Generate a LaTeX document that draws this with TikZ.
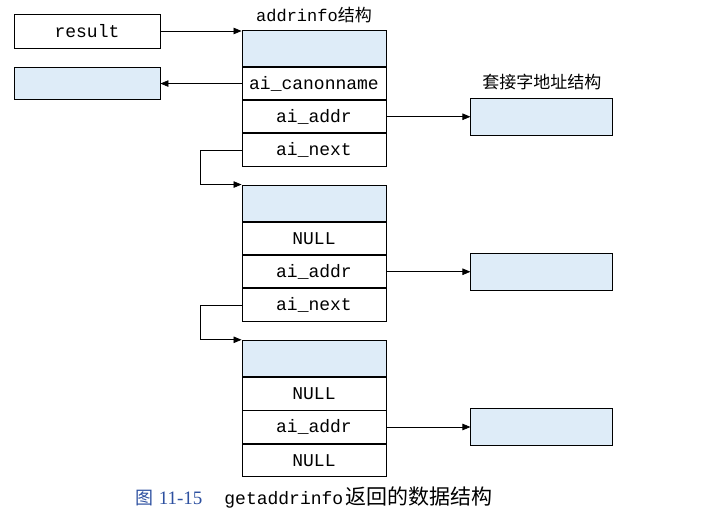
\documentclass[tikz,border=0pt]{standalone}
\usepackage{fontspec}
\setmainfont{Liberation Serif}
\setmonofont{Liberation Mono}
\newfontfamily\cjk{Noto Sans CJK SC}
\usetikzlibrary{arrows.meta,positioning}
\definecolor{lightblue}{RGB}{222,236,248}
\definecolor{capblue}{RGB}{45,80,160}
\tikzset{
  % one field of an addrinfo record
  field/.style={draw, rectangle, line width=0.9pt,
  minimum height=32.3pt,
  minimum width=144pt, inner sep=0pt,
  font=\fontsize{18}{20}\selectfont\ttfamily},
  headbox/.style={field, minimum height=36.5pt, fill=lightblue},
  sockbox/.style={draw, rectangle, line width=0.9pt,
  minimum height=37pt,
  minimum width=142pt, fill=lightblue},
  ptr/.style={-{Triangle[length=8pt,width=6.5pt]}, line width=0.75pt}}

\begin{document}
\begin{tikzpicture}[x=1pt,y=-1pt]
\useasboundingbox (0,0) rectangle (724,530);

\draw (87,31) node (result) [field, minimum width=146pt, minimum height=34pt] {result};
\draw (87,83) node (canon) [sockbox, minimum width=146pt, minimum height=32pt] {};

% first addrinfo
\draw (314,48.25) node (h1) [headbox] {};
\draw (h1.south) node (c1) [below, field] {ai\_canonname};
\draw (c1.south) node (a1) [below, field] {ai\_addr};
\draw (a1.south) node (n1) [below, field] {ai\_next};
\node (ainame) [above=3pt of h1, font=\fontsize{17}{19}\selectfont\ttfamily] {addrinfo{\cjk 结构}};

% second addrinfo
\draw (314,203.25) node (h2) [headbox] {};
\draw (h2.south) node (u2) [below, field] {NULL};
\draw (u2.south) node (a2) [below, field] {ai\_addr};
\draw (a2.south) node (n2) [below, field] {ai\_next};

% third addrinfo
\draw (314,358.5) node (h3) [headbox] {};
\draw (h3.south) node (u3) [below, field] {NULL};
\draw (u3.south) node (a3) [below, field] {ai\_addr};
\draw (a3.south) node (v3) [below, field] {NULL};

% socket address structures
\node (s1) [sockbox, right=84pt of a1] {};
\node (s2) [sockbox, right=84pt of a2] {};
\node (s3) [sockbox, right=84pt of a3] {};
\node (saname) [above=4pt of s1, font=\cjk\fontsize{17}{19}\selectfont] {套接字地址结构};

% pointers
\draw [ptr] (result.east) -- (result.east -| h1.west);
\draw [ptr] (c1.west) -- (c1.west -| canon.east);
\draw [ptr] (a1.east) -- (s1.west);
\draw [ptr] (a2.east) -- (s2.west);
\draw [ptr] (a3.east) -- (s3.west);
\draw [ptr] (n1.west) -- ++(-41,0) |- (h2.north west);
\draw [ptr] (n2.west) -- ++(-41,0) |- (h3.north west);

% caption
\node (caption) at (314,497) {{\color{capblue}\cjk\fontsize{18}{20}\selectfont 图\hspace{5pt}\rmfamily\fontsize{19}{21}\selectfont 11-15}\hspace{22pt}{\fontsize{18}{20}\selectfont\ttfamily getaddrinfo}\hspace{2pt}{\cjk\fontsize{21}{23}\selectfont 返回的数据结构}};

\end{tikzpicture}
\end{document}
